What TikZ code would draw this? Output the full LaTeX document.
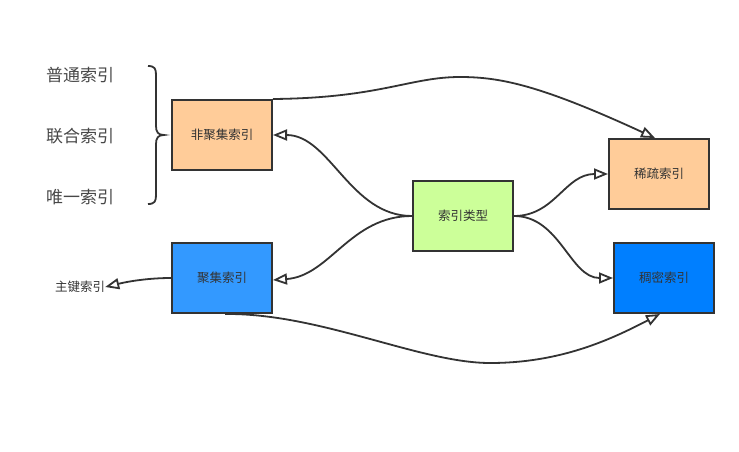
\documentclass[tikz,border=0pt]{standalone}
\usepackage{fontspec}
\setmainfont{Noto Sans CJK SC}
\usetikzlibrary{arrows.meta}
\definecolor{ink}{HTML}{333333}
\definecolor{peach}{HTML}{FFCC99}
\definecolor{lime}{HTML}{CCFF99}
\definecolor{skyb}{HTML}{3399FF}
\definecolor{deepb}{HTML}{007FFF}
\begin{document}
\begin{tikzpicture}[x=1pt,y=-1pt,
  box/.style={draw=ink,line width=2pt,minimum width=100pt,minimum height=70pt,inner sep=0pt,text=ink,font=\fontsize{12.5}{14}\selectfont},
  biglabel/.style={text=ink!90,font=\fontsize{17}{20}\selectfont,inner sep=0pt},
  smalllabel/.style={text=ink,font=\fontsize{12.5}{14}\selectfont,inner sep=0pt},
  conn/.style={draw=ink,line width=1.8pt,-{Triangle[length=14pt,width=11pt,fill=white]}}]
\useasboundingbox (0,0) rectangle (739,452);
\node[box,fill=peach] (fj) at (222,135) {非聚集索引};
\node[box,fill=lime] (lx) at (463,216) {索引类型};
\node[box,fill=peach] (xs) at (659,174) {稀疏索引};
\node[box,fill=skyb] (jj) at (222,278) {聚集索引};
\node[box,fill=deepb] (cm) at (664,278) {稠密索引};
\node[biglabel] (pt) at (80,75) {普通索引};
\node[biglabel] (lh) at (80,136) {联合索引};
\node[biglabel] (wy) at (80,197) {唯一索引};
\node[smalllabel] (zj) at (80,287) {主键索引};
% brace
\draw[ink,line width=1.8pt] (148,66) .. controls (155,66) and (156,69) .. (156,75) -- (156,126)
  .. controls (156,132) and (158,135) .. (164,135)
  .. controls (158,135) and (156,138) .. (156,144) -- (156,195)
  .. controls (156,201) and (155,204) .. (148,204);
% connectors
\draw[conn] (lx.west) .. controls (350,216) and (330,135) .. (fj.east);
\draw[conn] (lx.west) .. controls (350,216) and (330,276) .. ([yshift=-2pt]jj.east);
\draw[conn] (lx.east) .. controls (555,216) and (565,174) .. (xs.west);
\draw[conn] (lx.east) .. controls (560,216) and (570,278) .. (cm.west);
\draw[conn] (jj.west) .. controls (150,278) and (130,281) .. (zj.east);
\coordinate (topk) at (460,77);
\coordinate (botk) at (490,363);
\draw[conn] (fj.north east) .. controls (380,98) and (410,77) .. (topk)
  .. controls (500,77) and (540,85) .. ([xshift=-4pt]xs.north);
\draw[conn] ([xshift=3pt]jj.south) .. controls (320,313) and (420,363) .. (botk)
  .. controls (560,363) and (610,340) .. ([xshift=-4pt]cm.south);
\end{tikzpicture}
\end{document}
